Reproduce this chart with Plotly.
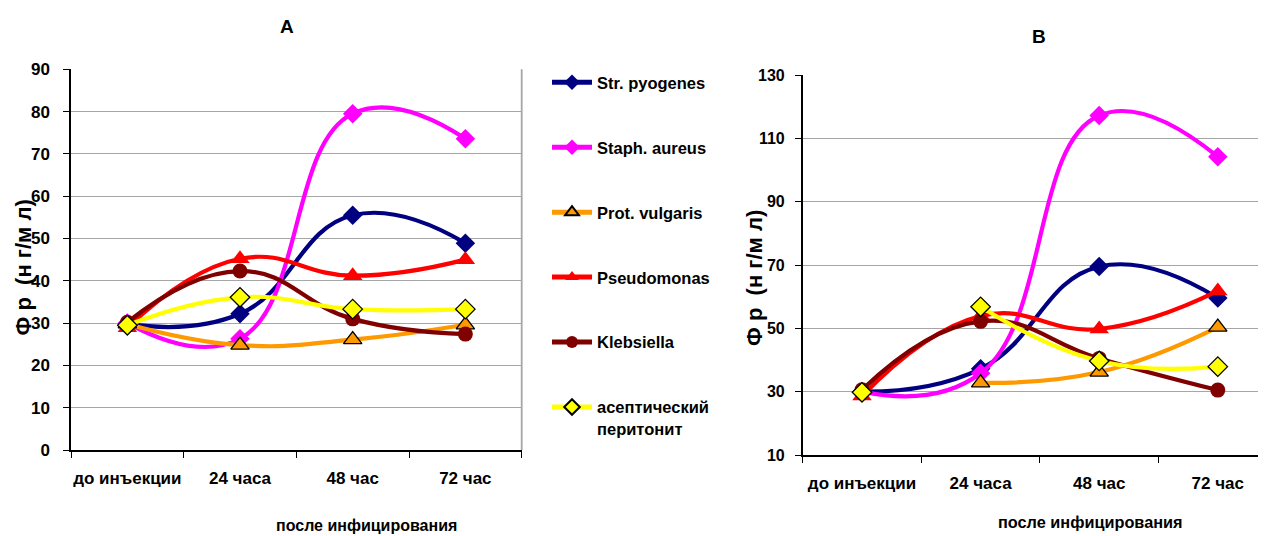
import plotly.graph_objects as go

categories = ["до инъекции", "24 часа", "48 час", "72 час"]
series_names = ["Str. pyogenes", "Staph. aureus", "Prot. vulgaris", "Pseudomonas",
                "Klebsiella", "асептический<br>перитонит"]

# Panel A values
a_str = [29.8, 32.2, 55.5, 48.9]
a_staph = [30, 26.3, 79.5, 73.6]
a_prot = [29.8, 24.8, 26.1, 29.6]
a_pseudo = [28.9, 45.2, 41.2, 45.0]
a_kleb = [30.2, 42.3, 31.0, 27.4]
a_asept = [29.5, 36.1, 33.3, 33.3]

# Panel B values
b_str = [30, 37.2, 69.5, 59.6]
b_staph = [30, 35.8, 117.2, 104.2]
b_prot = [None, 32.8, 36.2, 50.4]
b_pseudo = [28.6, 53.9, 49.8, 61.8]
b_kleb = [30.6, 52.2, 40.5, 30.5]
b_asept = [29.8, 56.8, 39.7, 37.9]
# index from which the connecting line is drawn in panel B (first segment not drawn)
b_line_start = [0, 0, 1, 0, 0, 1]

colors = ["#000080", "#FF00FF", "#FF9900", "#FF0000", "#800000", "#FFFF00"]
symbols = ["diamond", "diamond", "triangle-up", "triangle-up", "circle", "diamond"]
msizes = [15, 15, 16, 17, 15, 15]
mlines = [0, 0, 1.3, 0, 0, 1.3]

FONT = "Liberation Sans, Arial, sans-serif"

A = [a_str, a_staph, a_prot, a_pseudo, a_kleb, a_asept]
B = [b_str, b_staph, b_prot, b_pseudo, b_kleb, b_asept]


def marker(i):
    return dict(symbol=symbols[i], size=msizes[i], color=colors[i],
                line=dict(color="black", width=mlines[i]))


def line(i):
    return dict(color=colors[i], width=4.2, shape="spline", smoothing=1.3)


fig = go.Figure()
for i, name in enumerate(series_names):
    fig.add_trace(go.Scatter(
        x=categories, y=A[i], name=name, xaxis="x", yaxis="y",
        mode="lines+markers", legendgroup=f"g{i}", showlegend=True,
        line=line(i), marker=marker(i), connectgaps=False))
    s = b_line_start[i]
    vals = [v if k >= s else None for k, v in enumerate(B[i])]
    fig.add_trace(go.Scatter(
        x=categories, y=vals, name=name, xaxis="x2", yaxis="y2",
        mode="lines+markers", legendgroup=f"g{i}", showlegend=False,
        line=line(i), marker=marker(i), connectgaps=False))
    lone = [v if k < s else None for k, v in enumerate(B[i])]
    if any(v is not None for v in lone):
        fig.add_trace(go.Scatter(
            x=categories, y=lone, name=name, xaxis="x2", yaxis="y2",
            mode="markers", legendgroup=f"g{i}", showlegend=False, marker=marker(i)))

W, H = 1266, 536
OFF = 8  # page body margin


def px(x):
    return (x - OFF) / W


def py(y):
    return 1 - (y - OFF) / H


common_x = dict(type="category", showgrid=False, showline=True, linecolor="black", linewidth=1.5,
                ticks="outside", ticklen=6, tickcolor="black", tickwidth=1.3, tickson="boundaries",
                tickangle=0, ticklabelstandoff=12, automargin=False,
                tickfont=dict(family=FONT, size=17, color="black", weight="bold"),
                zeroline=False, fixedrange=True)
common_y = dict(showgrid=True, gridcolor="#A6A6A6", gridwidth=1.3, showline=True, linecolor="black",
                linewidth=1.5, ticks="outside", ticklen=6, tickcolor="black", tickwidth=1.3,
                zeroline=False, automargin=False,
                tickfont=dict(family=FONT, size=17, color="black", weight="bold"))

fig.update_layout(
    width=W, height=H, margin=dict(l=0, r=0, t=0, b=0, pad=0),
    paper_bgcolor="white", plot_bgcolor="white",
    font=dict(family=FONT, color="black"),
    xaxis=dict(common_x, domain=[px(71), px(521.7)], anchor="y", range=[-0.5, 3.5]),
    yaxis=dict(common_y, domain=[py(450), py(69.3)], anchor="x", range=[0, 90], dtick=10,
               ticklabelstandoff=10),
    xaxis2=dict(common_x, domain=[px(802.7), 1.0], anchor="y2",
                range=[-0.5, -0.5 + (W + OFF - 802.7) / 118.6]),
    yaxis2=dict(common_y, domain=[py(455), py(75)], anchor="x2", range=[10, 130], dtick=20, tick0=10,
                ticklabelstandoff=7, tickfont=dict(family=FONT, size=16, color="black", weight="bold")),
    legend=dict(x=px(547), y=py(65), xanchor="left", yanchor="top",
                font=dict(family=FONT, size=16.5, color="black", weight="bold"),
                tracegroupgap=40.5, itemwidth=40, bgcolor="rgba(0,0,0,0)",
                itemsizing="constant", valign="top"),
    showlegend=True,
)

fig.add_shape(type="line", xref="x domain", yref="y domain", x0=1, x1=1, y0=0, y1=1,
              line=dict(color="#A6A6A6", width=1.8))

ann = [
    dict(text="<b>A</b>", x=px(287.3), y=py(26.7), size=19),
    dict(text="<b>B</b>", x=px(1039), y=py(36), size=19),
    dict(text="<b>после инфицирования</b>", x=px(366), y=py(525), size=16),
    dict(text="<b>после инфицирования</b>", x=px(1090), y=py(522), size=16.3),
]
for a in ann:
    fig.add_annotation(text=a["text"], x=a["x"], y=a["y"], xref="paper", yref="paper",
                       showarrow=False, font=dict(family=FONT, size=a["size"], color="black"),
                       xanchor="center", yanchor="middle")
for (xx, yy) in [(22.5, 268), (754, 278)]:
    fig.add_annotation(text="<b>Ф р  (н г/м л)</b>", x=px(xx), y=py(yy), xref="paper", yref="paper",
                       showarrow=False, textangle=-90,
                       font=dict(family=FONT, size=22, color="black"),
                       xanchor="center", yanchor="middle")

fig.write_html("out.html")
